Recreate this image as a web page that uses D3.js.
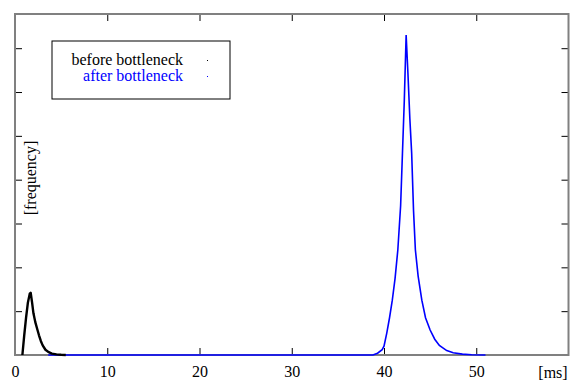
<!DOCTYPE html>
<html>
<head>
<meta charset="utf-8">
<script src="https://cdn.jsdelivr.net/npm/d3@7"></script>
<style>
body{margin:0;background:#fff;}
text{font-family:"Liberation Serif","DejaVu Serif",serif;}
</style>
</head>
<body>
<div id="chart"></div>
<script>
// x in ms, y in frequency units (one unit per y tick)
const beforeX = [0.8, 1.0, 1.2, 1.4, 1.6, 1.7, 1.85, 2.0, 2.2, 2.4, 2.6, 2.8, 3.0, 3.3, 3.6, 4.0, 4.5, 5.0, 5.5];
const beforeY = [0, 0.45, 0.85, 1.2, 1.4, 1.42, 1.2, 0.95, 0.75, 0.6, 0.45, 0.32, 0.22, 0.12, 0.07, 0.03, 0.015, 0.005, 0];

const afterX = [3.6, 10, 20, 30, 38.8, 39.3, 39.8, 40.0, 40.3, 40.6, 40.9, 41.2, 41.5, 41.8, 42.0, 42.2, 42.4, 42.6, 42.8, 43.0, 43.2, 43.4, 43.7, 44.1, 44.5, 45.0, 45.5, 46.0, 46.8, 47.5, 48.5, 49.5, 51.0];
const afterY = [0, 0, 0, 0, 0, 0.04, 0.12, 0.2, 0.5, 0.85, 1.25, 1.75, 2.4, 3.4, 4.6, 5.8, 7.3, 6.4, 5.4, 4.6, 3.3, 2.4, 1.8, 1.25, 0.85, 0.57, 0.36, 0.22, 0.1, 0.05, 0.02, 0.005, 0];

const xTicks = [0, 10, 20, 30, 40, 50];
const yTicks = [1, 2, 3, 4, 5, 6, 7];
const seriesNames = ["before bottleneck", "after bottleneck"];
const seriesColors = ["#000000", "#0000ff"];

const w = 572, h = 381;
const padL = 15, padR = 568.5, padT = 14, padB = 355;
const fs = 16;

const svg = d3.select("#chart").append("svg")
  .attr("width", w).attr("height", h);

const xScale = d3.scaleLinear().domain([0, 60]).range([padL, padR]);
const yScale = d3.scaleLinear().domain([0, 7.78]).range([padB, padT]);

// ticks inward on all four sides
const tickLen = 7;
const xAxisB = d3.axisBottom(xScale).tickValues(xTicks).tickSize(-tickLen).tickPadding(11).tickFormat(d3.format("d"));
const gx = svg.append("g").attr("transform", "translate(0," + padB + ")").call(xAxisB);
gx.select(".domain").remove();
gx.selectAll("text").attr("font-size", fs).attr("fill", "#000")
  .attr("font-family", "Liberation Serif").attr("dy", "0.71em");
gx.selectAll("line").attr("stroke", "#000");

const gxt = svg.append("g").attr("transform", "translate(0," + padT + ")")
  .call(d3.axisTop(xScale).tickValues(xTicks).tickSize(-tickLen).tickFormat(""));
gxt.select(".domain").remove();
gxt.selectAll("line").attr("stroke", "#000");

const gyl = svg.append("g").attr("transform", "translate(" + padL + ",0)")
  .call(d3.axisLeft(yScale).tickValues(yTicks).tickSize(-tickLen).tickFormat(""));
gyl.select(".domain").remove();
gyl.selectAll("line").attr("stroke", "#000");

const gyr = svg.append("g").attr("transform", "translate(" + padR + ",0)")
  .call(d3.axisRight(yScale).tickValues(yTicks).tickSize(-tickLen).tickFormat(""));
gyr.select(".domain").remove();
gyr.selectAll("line").attr("stroke", "#000");

// frame
svg.append("rect")
  .attr("x", padL).attr("y", padT)
  .attr("width", padR - padL).attr("height", padB - padT)
  .attr("fill", "none").attr("stroke", "#808080").attr("stroke-width", 2);

// curves
const line = d3.line().x(d => xScale(d[0])).y(d => yScale(d[1]));
const afterData = afterX.map((x, i) => [x, afterY[i]]);
const beforeData = beforeX.map((x, i) => [x, beforeY[i]]);

svg.append("path").datum(afterData).attr("d", line)
  .attr("fill", "none").attr("stroke", seriesColors[1]).attr("stroke-width", 1.6);
svg.append("path").datum(beforeData).attr("d", line)
  .attr("fill", "none").attr("stroke", seriesColors[0]).attr("stroke-width", 2.4)
  .attr("stroke-linejoin", "round");

// axis labels
svg.append("text").attr("x", 553).attr("y", 378).attr("text-anchor", "middle")
  .attr("font-size", fs).text("[ms]");
svg.append("text")
  .attr("transform", "translate(36,178) rotate(-90)")
  .attr("text-anchor", "middle").attr("font-size", fs).text("[frequency]");

// legend
svg.append("rect").attr("x", 52).attr("y", 41).attr("width", 178).attr("height", 58)
  .attr("fill", "#fff").attr("stroke", "#000").attr("stroke-width", 1);
seriesNames.forEach((name, i) => {
  svg.append("text").attr("x", 183).attr("y", 65 + i * 16)
    .attr("text-anchor", "end").attr("font-size", fs)
    .attr("fill", seriesColors[i]).text(name);
  svg.append("rect").attr("x", 207).attr("y", 60 + i * 16)
    .attr("width", 1).attr("height", 1).attr("fill", seriesColors[i]);
});
</script>
</body>
</html>
